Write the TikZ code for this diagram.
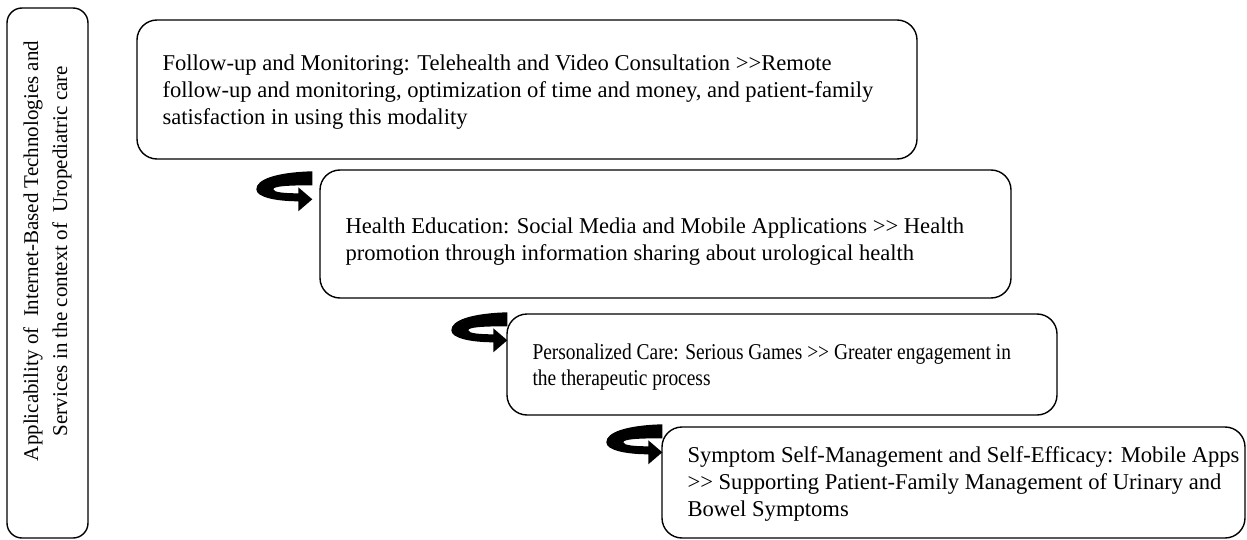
\documentclass[tikz,border=0pt]{standalone}
\usepackage{fontspec}
\setmainfont{Liberation Serif}
\newfontfamily\condserif[FakeStretch=0.86]{Liberation Serif}
\begin{document}
\begin{tikzpicture}[x=1pt,y=-1pt,
  roundbox/.style={draw=black, line width=1.4pt, rounded corners=20pt, fill=white, inner sep=0pt},
  boxtext/.style={anchor=west, align=left, inner sep=0pt, font=\fontsize{22.6}{27}\selectfont},
  uturn/.pic={\fill[black] (58,2) .. controls (22,3) and (2,10) .. (2,20)
     .. controls (2,28) and (22,32) .. (44,32) -- (44,42) -- (58,30) -- (44,18) -- (44,24)
     .. controls (30,24) and (19,23) .. (19,20) .. controls (19,17) and (32,16) .. (58,16) -- cycle;}
]
\useasboundingbox (0,0) rectangle (1247,540);

% side label box
\node[roundbox, rounded corners=15pt, minimum width=81pt, minimum height=530pt] (side) at (47.5,273) {};
\node[rotate=90, align=center, inner sep=0pt, font=\fontsize{21}{29}\selectfont] (sidetext) at (47.5,251)
  {Applicability of~ Internet-Based Technologies and\\ Services in the context of~ Uropediatric care};

% step boxes
\node[roundbox, minimum width=780pt, minimum height=139pt] (b1) at (527,89.5) {};
\node[roundbox, minimum width=691pt, minimum height=128pt] (b2) at (665.5,234) {};
\node[roundbox, minimum width=550pt, minimum height=101pt] (b3) at (782,364.5) {};
\node[roundbox, minimum width=583pt, minimum height=111pt] (b4) at (953.5,482.5) {};

\node[boxtext] (t1) at ([shift={(26,3)}]b1.west)
  {Follow-up and Monitoring: Telehealth and Video Consultation >{}>Remote\\
   follow-up and monitoring, optimization of time and money, and patient-family\\
   satisfaction in using this modality};
\node[boxtext] (t2) at ([shift={(26,8)}]b2.west)
  {Health Education: Social Media and Mobile Applications >{}> Health\\
   promotion through information sharing about urological health};
\node[boxtext, font=\condserif\fontsize{22.6}{26}\selectfont] (t3) at ([shift={(26,3)}]b3.west)
  {Personalized Care: Serious Games >{}> Greater engagement in\\
   the therapeutic process};
\node[boxtext] (t4) at ([shift={(26,1)}]b4.west)
  {Symptom Self-Management and Self-Efficacy: Mobile Apps\\
   >{}> Supporting Patient-Family Management of Urinary and\\
   Bowel Symptoms};

% curved arrows
\pic at ([shift={(-65,0)}]b2.north west) {uturn};
\pic at ([shift={(-57,-3)}]b3.north west) {uturn};
\pic at ([shift={(-57,-4)}]b4.north west) {uturn};
\end{tikzpicture}
\end{document}
